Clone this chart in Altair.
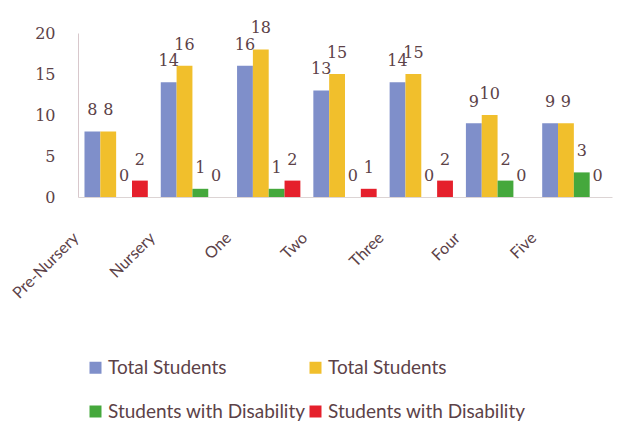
import altair as alt
import pandas as pd

categories = ["Pre-Nursery", "Nursery", "One", "Two", "Three", "Four", "Five"]
total_students_a = [8, 14, 16, 13, 14, 9, 9]
total_students_b = [8, 16, 18, 15, 15, 10, 9]
disability_a = [0, 1, 1, 0, 0, 2, 3]
disability_b = [2, 0, 2, 1, 2, 0, 0]
series_keys = ["s1", "s2", "s3", "s4"]
series_names = ["Total Students", "Total Students",
                "Students with Disability", "Students with Disability"]
colors = ["#7f8fca", "#f1bf2c", "#45a83c", "#e5202c"]

rows = []
for key, vals in zip(series_keys, [total_students_a, total_students_b, disability_a, disability_b]):
    for c, v in zip(categories, vals):
        rows.append({"category": c, "series": key, "value": v})
df = pd.DataFrame(rows)

label_expr = "{" + ",".join(f"'{k}':'{n}'" for k, n in zip(series_keys, series_names)) + "}[datum.label]"

# legend is filled column by column: order keys so rows read blue/gold, green/red
legend_order = [series_keys[0], series_keys[2], series_keys[1], series_keys[3]]
legend_colors = [colors[0], colors[2], colors[1], colors[3]]

TXT = "#5c4248"

base = alt.Chart(df).encode(
    x=alt.X("category:N", sort=categories, title=None,
            scale=alt.Scale(paddingInner=0.17, paddingOuter=0.085),
            axis=alt.Axis(labelAngle=-45, labelAlign="right", labelBaseline="middle",
                          labelPadding=38, labelOffset=-40, ticks=False, tickSize=0,
                          labelFont="Lato", labelFontSize=16, labelColor=TXT,
                          domainColor="#dcd4d4", domainWidth=1)),
    xOffset=alt.XOffset("series:N", sort=series_keys,
                        scale=alt.Scale(paddingInner=0, paddingOuter=0)),
    y=alt.Y("value:Q", title=None, scale=alt.Scale(domain=[0, 20]),
            axis=alt.Axis(values=[0, 5, 10, 15, 20], grid=False, ticks=False, tickSize=0,
                          labelPadding=23, labelFont="DejaVu Serif", labelFontSize=16,
                          labelColor=TXT, domainColor="#d8c8cc", domainWidth=1)),
)

bars = base.mark_bar().encode(
    color=alt.Color("series:N",
                    scale=alt.Scale(domain=legend_order, range=legend_colors),
                    legend=alt.Legend(title=None, orient="none", legendX=8, legendY=325,
                                      columns=2, columnPadding=0, rowPadding=24,
                                      symbolType="square", symbolSize=144,
                                      symbolStrokeWidth=0, labelExpr=label_expr,
                                      labelFont="Lato", labelFontSize=19, labelOffset=3,
                                      labelColor=TXT, labelLimit=300, padding=0))
)

text = base.mark_text(dy=-16, baseline="alphabetic", font="DejaVu Serif",
                      fontSize=16, color=TXT).encode(text="value:Q")

chart = (bars + text).properties(
    width=534, height=164,
    autosize=alt.AutoSizeParams(type="none"),
    padding={"left": 70, "top": 25, "right": 11, "bottom": 230},
    background="white",
).configure_view(stroke=None)

chart.save("out.html", embed_options={"renderer": "svg", "actions": False})
